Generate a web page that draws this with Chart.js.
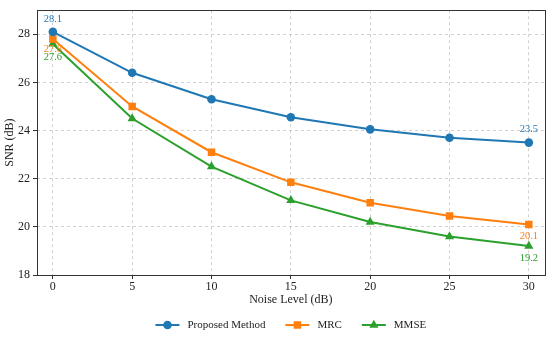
<!DOCTYPE html>
<html><head><meta charset="utf-8">
<script src="https://cdn.jsdelivr.net/npm/chart.js@4/dist/chart.umd.min.js"></script>
<style>html,body{margin:0;padding:0;background:#fff}#wrap{width:550px;height:338px}</style>
</head><body><div id="wrap"><canvas id="c" width="550" height="338"></canvas></div>
<script>
const noiseLevels = [0, 5, 10, 15, 20, 25, 30];
const proposed = [28.1, 26.4, 25.3, 24.55, 24.05, 23.7, 23.5];
const mrc = [27.8, 25.0, 23.1, 21.85, 21.0, 20.45, 20.1];
const mmse = [27.6, 24.5, 22.5, 21.1, 20.2, 19.6, 19.2];
const seriesLabels = ['Proposed Method', 'MRC', 'MMSE'];
const xTicks = [0, 5, 10, 15, 20, 25, 30];
const yTicks = [18, 20, 22, 24, 26, 28];
const colors = ['#1f77b4', '#ff7f0e', '#2ca02c'];
const markers = ['circle', 'rect', 'triangle'];
const markerRadius = [4.3, 5.3, 5.3];
// annotated points: [seriesIndex, pointIndex, dy]
const annotations = [[0,0,-13],[1,0,10],[2,0,13],[0,6,-13],[1,6,12],[2,6,12]];

const FONT = "'Liberation Serif', 'Times New Roman', serif";
const allSeries = [proposed, mrc, mmse];
const datasets = allSeries.map((s, i) => ({
  label: seriesLabels[i],
  data: noiseLevels.map((x, j) => ({x: x, y: s[j]})),
  borderColor: colors[i],
  backgroundColor: colors[i],
  borderWidth: 2,
  pointStyle: markers[i],
  pointRadius: markerRadius[i],
  pointHoverRadius: markerRadius[i],
  pointBorderWidth: 0,
  tension: 0
}));

const framePlugin = {
  id: 'frame',
  beforeDraw(chart) {
    const ctx = chart.ctx;
    ctx.save(); ctx.fillStyle = '#fff'; ctx.fillRect(0,0,chart.width,chart.height); ctx.restore();
  },
  afterDatasetsDraw(chart) {
    const ctx = chart.ctx, a = chart.chartArea;
    ctx.save();
    ctx.strokeStyle = '#333'; ctx.lineWidth = 1;
    ctx.strokeRect(Math.round(a.left)+0.5, Math.round(a.top)+0.5, Math.round(a.right-a.left), Math.round(a.bottom-a.top));
    // annotations
    ctx.font = '10.5px ' + FONT;
    ctx.textAlign = 'center'; ctx.textBaseline = 'middle';
    annotations.forEach(([si, pi, dy]) => {
      const el = chart.getDatasetMeta(si).data[pi];
      ctx.fillStyle = colors[si];
      ctx.fillText(allSeries[si][pi].toFixed(1), el.x, el.y + dy);
    });
    // legend
    const ly = 325;
    ctx.font = '11px ' + FONT;
    ctx.textAlign = 'left';
    const lineLen = 24, gapText = 8, gapItem = 20;
    const widths = seriesLabels.map(t => lineLen + gapText + ctx.measureText(t).width);
    const total = widths.reduce((p, w) => p + w, 0) + gapItem * (seriesLabels.length - 1);
    let x = (a.left + a.right) / 2 - total / 2;
    seriesLabels.forEach((t, i) => {
      ctx.strokeStyle = colors[i]; ctx.fillStyle = colors[i]; ctx.lineWidth = 2;
      ctx.beginPath(); ctx.moveTo(x, ly); ctx.lineTo(x + lineLen, ly); ctx.stroke();
      Chart.helpers.drawPoint(ctx, {pointStyle: markers[i], radius: markerRadius[i], borderWidth: 0}, x + lineLen/2, ly);
      ctx.fillStyle = '#222';
      ctx.fillText(t, x + lineLen + gapText, ly + 0.5);
      x += widths[i] + gapItem;
    });
    ctx.restore();
  }
};

const gridOpts = { color: 'rgba(190,190,190,0.7)', tickColor: '#333', tickLength: 4, tickBorderDash: [], drawTicks: true };
const borderOpts = { display: false, dash: [3, 3] };

new Chart(document.getElementById('c'), {
  type: 'line',
  data: { datasets },
  options: {
    responsive: false,
    animation: false,
    devicePixelRatio: 1,
    layout: { padding: { left: 0, right: 5, top: 4, bottom: 28 } },
    plugins: { legend: { display: false }, tooltip: { enabled: false } },
    scales: {
      x: {
        type: 'linear', min: -1, max: 31,
        afterBuildTicks: s => { s.ticks = xTicks.map(v => ({value: v})); },
        afterFit: s => { s.height = 35; },
        grid: gridOpts,
        border: borderOpts,
        ticks: { color: '#222', font: { family: FONT, size: 12 }, padding: 1, maxRotation: 0 },
        title: { display: true, text: 'Noise Level (dB)', color: '#222', font: { family: FONT, size: 12 }, padding: { top: 2, bottom: 3 } }
      },
      y: {
        type: 'linear', min: 18, max: 29,
        afterBuildTicks: s => { s.ticks = yTicks.map(v => ({value: v})); },
        afterFit: s => { s.width = 37; },
        grid: gridOpts,
        border: borderOpts,
        ticks: { color: '#222', font: { family: FONT, size: 12 }, padding: 3 },
        title: { display: true, text: 'SNR (dB)', color: '#222', font: { family: FONT, size: 12 }, padding: { top: 3, bottom: 2 } }
      }
    }
  },
  plugins: [framePlugin]
});
</script></body></html>
